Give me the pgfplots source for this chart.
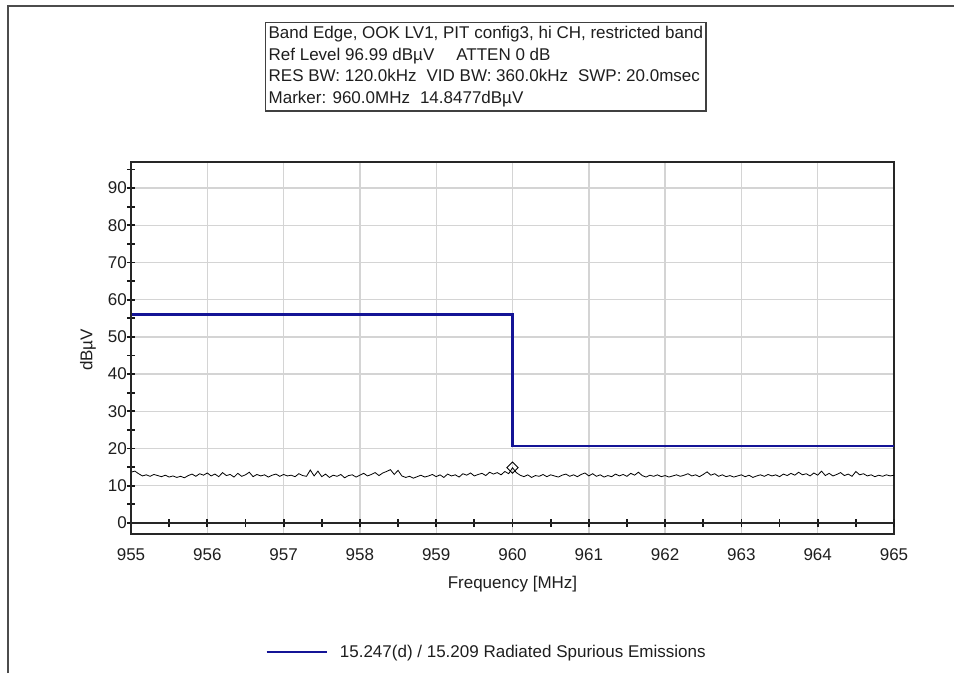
\documentclass[border=0pt]{standalone}
\usepackage{pgfplots}
\pgfplotsset{compat=1.18}
\usepackage{fontspec}
\setmainfont{Liberation Sans}
\definecolor{limblue}{RGB}{20,20,150}
\definecolor{txt}{RGB}{30,30,30}
\definecolor{gridc}{RGB}{212,212,212}
\newcommand{\chartfont}{\fontsize{17}{21.5}\selectfont}
\begin{document}
\begin{tikzpicture}
\path[use as bounding box] (0pt,0pt) rectangle (954pt,-673pt);
% outer frame
\draw[line width=1.5pt, black!70] (8pt,-673pt) -- (8pt,-6pt) -- (954pt,-6pt);
\begin{axis}[
  at={(131pt,-534pt)}, anchor=south west,
  scale only axis, width=763pt, height=372pt,
  xmin=955, xmax=965, ymin=-3.01, ymax=96.99,
  xtick={955,956,...,965}, ytick={0,10,...,90},
  major tick length=0pt,
  grid=major,
  grid style={line width=1.4pt, gridc},
  axis line style={line width=1.5pt, black!85},
  /pgf/number format/assume math mode=true,
  xticklabel style={font=\chartfont, text=txt, anchor=north, inner sep=0pt, yshift=-14pt},
  yticklabel style={font=\chartfont, text=txt, anchor=east, inner sep=0pt, xshift=-4pt},
  xticklabel={\pgfmathprintnumber[fixed,precision=0]{\tick}},
  xlabel={Frequency [MHz]}, ylabel={dBµV},
  xlabel style={font=\chartfont, text=txt, at={(rel axis cs:0.5,-0.134)}, anchor=center},
  ylabel style={font=\chartfont, text=txt, at={(rel axis cs:-0.0564,0.495)}, anchor=center},
  legend style={at={(0.466,-0.317)}, anchor=center, draw=none, fill=none,
    font=\chartfont, text=txt, /tikz/every odd column/.append style={column sep=10pt}},
  legend image code/.code={\draw[#1] (0pt,0pt) -- (60pt,0pt);},
  legend cell align=left,
]
\addplot[black, line width=0.8pt, forget plot] coordinates {
(955.00,13.6) (955.05,13.9) (955.10,13.2) (955.15,12.6) (955.20,12.9) (955.25,12.5) (955.30,13.0) (955.35,12.7) (955.40,12.4) (955.45,12.8)
(955.50,12.3) (955.55,12.6) (955.60,12.2) (955.65,12.5) (955.70,12.1) (955.75,12.7) (955.80,13.1) (955.85,12.5) (955.90,13.2) (955.95,12.8)
(956.00,13.4) (956.05,12.6) (956.10,13.1) (956.15,12.4) (956.20,13.5) (956.25,12.7) (956.30,13.0) (956.35,12.3) (956.40,13.3) (956.45,12.5)
(956.50,12.9) (956.55,13.6) (956.60,12.4) (956.65,13.0) (956.70,12.6) (956.75,12.9) (956.80,12.3) (956.85,12.8) (956.90,13.1) (956.95,12.5)
(957.00,13.0) (957.05,12.6) (957.10,12.8) (957.15,12.4) (957.20,13.2) (957.25,12.7) (957.30,12.5) (957.35,14.2) (957.40,12.6) (957.45,13.9)
(957.50,12.4) (957.55,13.1) (957.60,12.2) (957.65,12.8) (957.70,12.5) (957.75,13.0) (957.80,12.1) (957.85,12.7) (957.90,12.9) (957.95,12.3)
(958.00,12.8) (958.05,13.3) (958.10,12.6) (958.15,13.0) (958.20,13.5) (958.25,12.7) (958.30,13.4) (958.35,13.8) (958.40,14.3) (958.45,13.0)
(958.50,14.1) (958.55,12.6) (958.60,12.2) (958.65,12.5) (958.70,12.0) (958.75,12.4) (958.80,12.8) (958.85,12.3) (958.90,12.6) (958.95,13.0)
(959.00,12.4) (959.05,12.9) (959.10,12.2) (959.15,13.1) (959.20,12.6) (959.25,12.9) (959.30,12.3) (959.35,13.2) (959.40,12.8) (959.45,13.4)
(959.50,12.6) (959.55,13.0) (959.60,13.3) (959.65,12.7) (959.70,13.6) (959.75,13.1) (959.80,13.5) (959.85,12.9) (959.90,13.8) (959.95,13.2)
(960.00,14.8) (960.05,13.5) (960.10,12.8) (960.15,12.4) (960.20,12.9) (960.25,12.2) (960.30,12.7) (960.35,12.5) (960.40,13.0) (960.45,12.4)
(960.50,12.9) (960.55,12.6) (960.60,12.3) (960.65,12.8) (960.70,13.1) (960.75,12.5) (960.80,12.9) (960.85,12.4) (960.90,13.0) (960.95,13.4)
(961.00,12.6) (961.05,13.2) (961.10,12.5) (961.15,12.9) (961.20,12.3) (961.25,12.7) (961.30,12.4) (961.35,13.1) (961.40,12.6) (961.45,13.0)
(961.50,12.5) (961.55,13.3) (961.60,12.8) (961.65,13.6) (961.70,12.7) (961.75,12.3) (961.80,12.8) (961.85,12.5) (961.90,12.9) (961.95,12.4)
(962.00,12.7) (962.05,12.3) (962.10,12.6) (962.15,12.9) (962.20,12.5) (962.25,12.8) (962.30,13.2) (962.35,12.6) (962.40,12.9) (962.45,12.4)
(962.50,13.0) (962.55,13.7) (962.60,12.8) (962.65,13.2) (962.70,12.5) (962.75,12.9) (962.80,12.4) (962.85,12.7) (962.90,12.3) (962.95,12.6)
(963.00,12.9) (963.05,12.4) (963.10,12.8) (963.15,12.2) (963.20,12.6) (963.25,12.9) (963.30,12.5) (963.35,13.0) (963.40,12.6) (963.45,12.9)
(963.50,12.4) (963.55,13.1) (963.60,12.7) (963.65,13.3) (963.70,12.8) (963.75,13.6) (963.80,12.9) (963.85,13.2) (963.90,12.6) (963.95,13.4)
(964.00,12.8) (964.05,13.9) (964.10,12.7) (964.15,13.3) (964.20,12.6) (964.25,13.0) (964.30,13.5) (964.35,12.7) (964.40,13.1) (964.45,12.5)
(964.50,13.8) (964.55,12.9) (964.60,13.2) (964.65,12.6) (964.70,12.9) (964.75,12.4) (964.80,12.8) (964.85,12.5) (964.90,12.9) (964.95,12.6)
(965.00,12.8)
};
\addplot[limblue, line width=2.4pt] coordinates {(955,56.0) (960,56.0) (960,20.6) (965,20.6)};
\addlegendentry{15.247(d) / 15.209 Radiated Spurious Emissions}
\addplot[only marks, mark=square, mark size=4pt, mark options={draw=black, fill=none, line width=0.9pt, rotate=45}, forget plot] coordinates {(960,14.85)};
\end{axis}
\begin{axis}[
  at={(131pt,-534pt)}, anchor=south west,
  scale only axis, width=763pt, height=372pt,
  xmin=955, xmax=965, ymin=-3.01, ymax=96.99,
  axis x line=middle, axis y line=left,
  axis line style={-, line width=1.5pt, black!85},
  xtick={955,955.5,956,956.5,957,957.5,958,958.5,959,959.5,960,960.5,961,961.5,962,962.5,963,963.5,964,964.5,965},
  ytick={0,5,10,15,20,25,30,35,40,45,50,55,60,65,70,75,80,85,90,95},
  xticklabels={}, yticklabels={},
  hide obscured x ticks=false, hide obscured y ticks=false,
  tick align=center, major tick length=8pt,
  every tick/.style={line width=1.8pt, black!90},
]
\end{axis}
\node[draw=black!75, line width=1.3pt, anchor=north west, align=left,
  inner xsep=3pt, inner ysep=4pt, font=\chartfont, text=txt] at (265pt,-22pt)
  {Band Edge, OOK LV1, PIT config3, hi CH, restricted band\\
   Ref Level 96.99 dBµV\hspace{22pt}ATTEN 0 dB\\
   RES BW: 120.0kHz\hspace{10pt}VID BW: 360.0kHz\hspace{10pt}SWP: 20.0msec\\
   Marker: 960.0MHz\hspace{10pt}14.8477dBµV};
\end{tikzpicture}
\end{document}
